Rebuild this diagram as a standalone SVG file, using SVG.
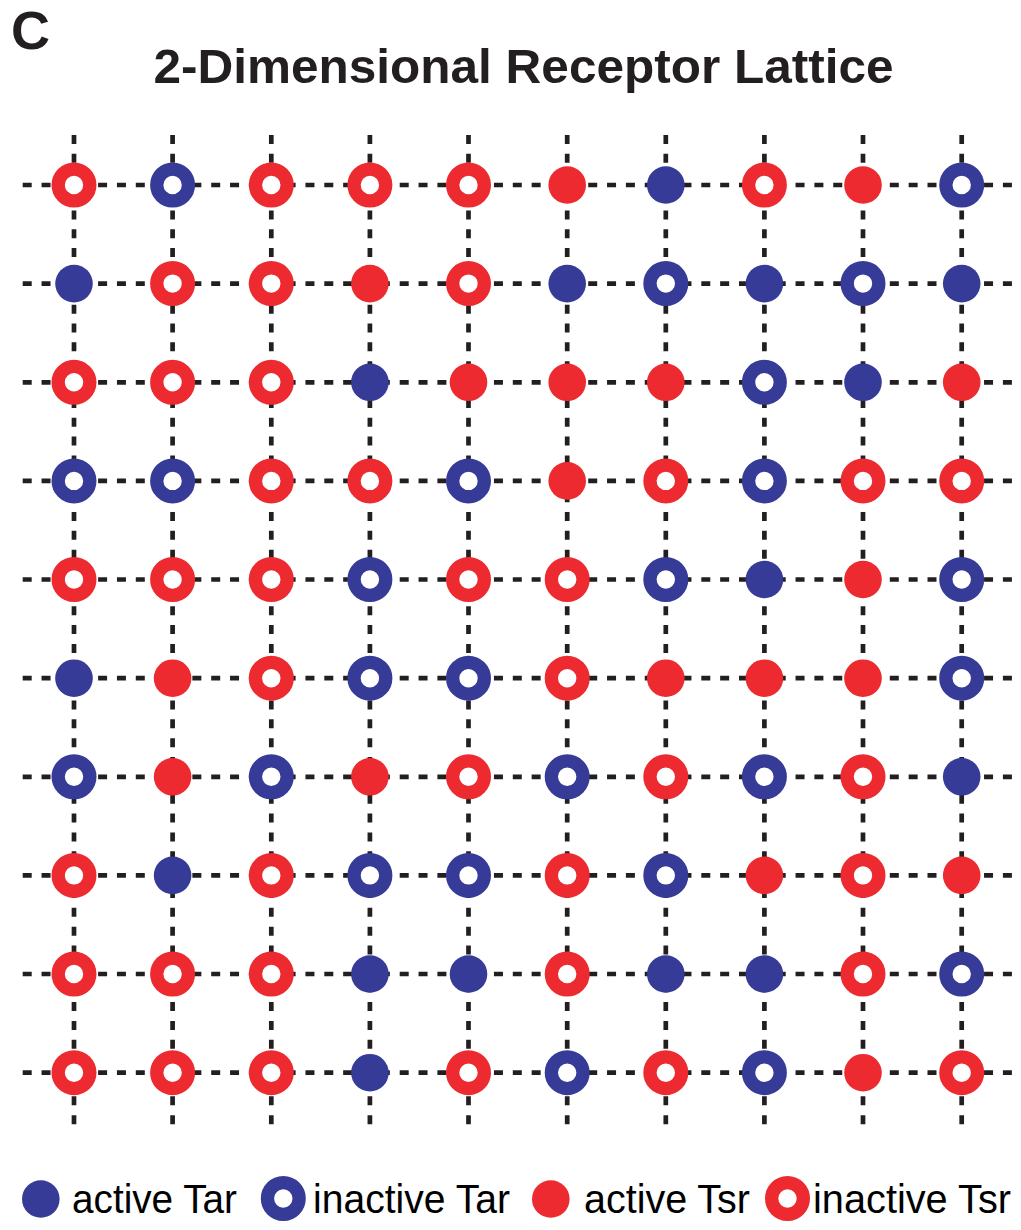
<svg xmlns="http://www.w3.org/2000/svg" xmlns:xlink="http://www.w3.org/1999/xlink" width="1021" height="1230" viewBox="0 0 1021 1230">
<style>
.lat{stroke:#231f20;stroke-width:4.7;stroke-dasharray:9 9.85;fill:none}
.ttl{font-family:"Liberation Sans",Arial,sans-serif;font-weight:bold;fill:#231f20}
.leg{font-family:"Liberation Sans",Arial,sans-serif;font-size:41px;fill:#000}
</style>
<defs>
<g id="aTar"><circle r="18.8" fill="#353B96"/></g>
<g id="iTar"><circle r="15.85" fill="#fff" stroke="#353B96" stroke-width="13.3"/></g>
<g id="aTsr"><circle r="18.8" fill="#ED2A2F"/></g>
<g id="iTsr"><circle r="15.85" fill="#fff" stroke="#ED2A2F" stroke-width="13.3"/></g>
</defs>
<rect width="1021" height="1230" fill="#fff"/>
<text class="ttl" x="11" y="49" font-size="54">C</text>
<text class="ttl" x="153.5" y="83" font-size="48" textLength="740" lengthAdjust="spacingAndGlyphs">2-Dimensional Receptor Lattice</text>
<g id="connectors">
<line class="lat" x1="22.7" y1="185" x2="1012.3" y2="185"/>
<line class="lat" x1="22.7" y1="283.6" x2="1012.3" y2="283.6"/>
<line class="lat" x1="22.7" y1="382.3" x2="1012.3" y2="382.3"/>
<line class="lat" x1="22.7" y1="480.9" x2="1012.3" y2="480.9"/>
<line class="lat" x1="22.7" y1="579.5" x2="1012.3" y2="579.5"/>
<line class="lat" x1="22.7" y1="678.2" x2="1012.3" y2="678.2"/>
<line class="lat" x1="22.7" y1="776.8" x2="1012.3" y2="776.8"/>
<line class="lat" x1="22.7" y1="875.4" x2="1012.3" y2="875.4"/>
<line class="lat" x1="22.7" y1="974" x2="1012.3" y2="974"/>
<line class="lat" x1="22.7" y1="1072.7" x2="1012.3" y2="1072.7"/>
<line class="lat" x1="74" y1="135" x2="74" y2="1124.5"/>
<line class="lat" x1="172.6" y1="135" x2="172.6" y2="1124.5"/>
<line class="lat" x1="271.3" y1="135" x2="271.3" y2="1124.5"/>
<line class="lat" x1="369.9" y1="135" x2="369.9" y2="1124.5"/>
<line class="lat" x1="468.5" y1="135" x2="468.5" y2="1124.5"/>
<line class="lat" x1="567.2" y1="135" x2="567.2" y2="1124.5"/>
<line class="lat" x1="665.8" y1="135" x2="665.8" y2="1124.5"/>
<line class="lat" x1="764.4" y1="135" x2="764.4" y2="1124.5"/>
<line class="lat" x1="863" y1="135" x2="863" y2="1124.5"/>
<line class="lat" x1="961.7" y1="135" x2="961.7" y2="1124.5"/>
</g>
<g id="nodes">
<g id="n1-1"><use href="#iTsr" x="74" y="185"/></g>
<g id="n1-2"><use href="#iTar" x="172.6" y="185"/></g>
<g id="n1-3"><use href="#iTsr" x="271.3" y="185"/></g>
<g id="n1-4"><use href="#iTsr" x="369.9" y="185"/></g>
<g id="n1-5"><use href="#iTsr" x="468.5" y="185"/></g>
<g id="n1-6"><use href="#aTsr" x="567.2" y="185"/></g>
<g id="n1-7"><use href="#aTar" x="665.8" y="185"/></g>
<g id="n1-8"><use href="#iTsr" x="764.4" y="185"/></g>
<g id="n1-9"><use href="#aTsr" x="863" y="185"/></g>
<g id="n1-10"><use href="#iTar" x="961.7" y="185"/></g>

<g id="n2-1"><use href="#aTar" x="74" y="283.6"/></g>
<g id="n2-2"><use href="#iTsr" x="172.6" y="283.6"/></g>
<g id="n2-3"><use href="#iTsr" x="271.3" y="283.6"/></g>
<g id="n2-4"><use href="#aTsr" x="369.9" y="283.6"/></g>
<g id="n2-5"><use href="#iTsr" x="468.5" y="283.6"/></g>
<g id="n2-6"><use href="#aTar" x="567.2" y="283.6"/></g>
<g id="n2-7"><use href="#iTar" x="665.8" y="283.6"/></g>
<g id="n2-8"><use href="#aTar" x="764.4" y="283.6"/></g>
<g id="n2-9"><use href="#iTar" x="863" y="283.6"/></g>
<g id="n2-10"><use href="#aTar" x="961.7" y="283.6"/></g>

<g id="n3-1"><use href="#iTsr" x="74" y="382.3"/></g>
<g id="n3-2"><use href="#iTsr" x="172.6" y="382.3"/></g>
<g id="n3-3"><use href="#iTsr" x="271.3" y="382.3"/></g>
<g id="n3-4"><use href="#aTar" x="369.9" y="382.3"/></g>
<g id="n3-5"><use href="#aTsr" x="468.5" y="382.3"/></g>
<g id="n3-6"><use href="#aTsr" x="567.2" y="382.3"/></g>
<g id="n3-7"><use href="#aTsr" x="665.8" y="382.3"/></g>
<g id="n3-8"><use href="#iTar" x="764.4" y="382.3"/></g>
<g id="n3-9"><use href="#aTar" x="863" y="382.3"/></g>
<g id="n3-10"><use href="#aTsr" x="961.7" y="382.3"/></g>

<g id="n4-1"><use href="#iTar" x="74" y="480.9"/></g>
<g id="n4-2"><use href="#iTar" x="172.6" y="480.9"/></g>
<g id="n4-3"><use href="#iTsr" x="271.3" y="480.9"/></g>
<g id="n4-4"><use href="#iTsr" x="369.9" y="480.9"/></g>
<g id="n4-5"><use href="#iTar" x="468.5" y="480.9"/></g>
<g id="n4-6"><use href="#aTsr" x="567.2" y="480.9"/></g>
<g id="n4-7"><use href="#iTsr" x="665.8" y="480.9"/></g>
<g id="n4-8"><use href="#iTar" x="764.4" y="480.9"/></g>
<g id="n4-9"><use href="#iTsr" x="863" y="480.9"/></g>
<g id="n4-10"><use href="#iTsr" x="961.7" y="480.9"/></g>

<g id="n5-1"><use href="#iTsr" x="74" y="579.5"/></g>
<g id="n5-2"><use href="#iTsr" x="172.6" y="579.5"/></g>
<g id="n5-3"><use href="#iTsr" x="271.3" y="579.5"/></g>
<g id="n5-4"><use href="#iTar" x="369.9" y="579.5"/></g>
<g id="n5-5"><use href="#iTsr" x="468.5" y="579.5"/></g>
<g id="n5-6"><use href="#iTsr" x="567.2" y="579.5"/></g>
<g id="n5-7"><use href="#iTar" x="665.8" y="579.5"/></g>
<g id="n5-8"><use href="#aTar" x="764.4" y="579.5"/></g>
<g id="n5-9"><use href="#aTsr" x="863" y="579.5"/></g>
<g id="n5-10"><use href="#iTar" x="961.7" y="579.5"/></g>

<g id="n6-1"><use href="#aTar" x="74" y="678.2"/></g>
<g id="n6-2"><use href="#aTsr" x="172.6" y="678.2"/></g>
<g id="n6-3"><use href="#iTsr" x="271.3" y="678.2"/></g>
<g id="n6-4"><use href="#iTar" x="369.9" y="678.2"/></g>
<g id="n6-5"><use href="#iTar" x="468.5" y="678.2"/></g>
<g id="n6-6"><use href="#iTsr" x="567.2" y="678.2"/></g>
<g id="n6-7"><use href="#aTsr" x="665.8" y="678.2"/></g>
<g id="n6-8"><use href="#aTsr" x="764.4" y="678.2"/></g>
<g id="n6-9"><use href="#aTsr" x="863" y="678.2"/></g>
<g id="n6-10"><use href="#iTar" x="961.7" y="678.2"/></g>

<g id="n7-1"><use href="#iTar" x="74" y="776.8"/></g>
<g id="n7-2"><use href="#aTsr" x="172.6" y="776.8"/></g>
<g id="n7-3"><use href="#iTar" x="271.3" y="776.8"/></g>
<g id="n7-4"><use href="#aTsr" x="369.9" y="776.8"/></g>
<g id="n7-5"><use href="#iTsr" x="468.5" y="776.8"/></g>
<g id="n7-6"><use href="#iTar" x="567.2" y="776.8"/></g>
<g id="n7-7"><use href="#iTsr" x="665.8" y="776.8"/></g>
<g id="n7-8"><use href="#iTar" x="764.4" y="776.8"/></g>
<g id="n7-9"><use href="#iTsr" x="863" y="776.8"/></g>
<g id="n7-10"><use href="#aTar" x="961.7" y="776.8"/></g>

<g id="n8-1"><use href="#iTsr" x="74" y="875.4"/></g>
<g id="n8-2"><use href="#aTar" x="172.6" y="875.4"/></g>
<g id="n8-3"><use href="#iTsr" x="271.3" y="875.4"/></g>
<g id="n8-4"><use href="#iTar" x="369.9" y="875.4"/></g>
<g id="n8-5"><use href="#iTar" x="468.5" y="875.4"/></g>
<g id="n8-6"><use href="#iTsr" x="567.2" y="875.4"/></g>
<g id="n8-7"><use href="#iTar" x="665.8" y="875.4"/></g>
<g id="n8-8"><use href="#aTsr" x="764.4" y="875.4"/></g>
<g id="n8-9"><use href="#iTsr" x="863" y="875.4"/></g>
<g id="n8-10"><use href="#aTsr" x="961.7" y="875.4"/></g>

<g id="n9-1"><use href="#iTsr" x="74" y="974"/></g>
<g id="n9-2"><use href="#iTsr" x="172.6" y="974"/></g>
<g id="n9-3"><use href="#iTsr" x="271.3" y="974"/></g>
<g id="n9-4"><use href="#aTar" x="369.9" y="974"/></g>
<g id="n9-5"><use href="#aTar" x="468.5" y="974"/></g>
<g id="n9-6"><use href="#iTsr" x="567.2" y="974"/></g>
<g id="n9-7"><use href="#aTar" x="665.8" y="974"/></g>
<g id="n9-8"><use href="#aTar" x="764.4" y="974"/></g>
<g id="n9-9"><use href="#iTsr" x="863" y="974"/></g>
<g id="n9-10"><use href="#iTar" x="961.7" y="974"/></g>

<g id="n10-1"><use href="#iTsr" x="74" y="1072.7"/></g>
<g id="n10-2"><use href="#iTsr" x="172.6" y="1072.7"/></g>
<g id="n10-3"><use href="#iTsr" x="271.3" y="1072.7"/></g>
<g id="n10-4"><use href="#aTar" x="369.9" y="1072.7"/></g>
<g id="n10-5"><use href="#iTsr" x="468.5" y="1072.7"/></g>
<g id="n10-6"><use href="#iTar" x="567.2" y="1072.7"/></g>
<g id="n10-7"><use href="#iTsr" x="665.8" y="1072.7"/></g>
<g id="n10-8"><use href="#iTar" x="764.4" y="1072.7"/></g>
<g id="n10-9"><use href="#aTsr" x="863" y="1072.7"/></g>
<g id="n10-10"><use href="#iTsr" x="961.7" y="1072.7"/></g>
</g>
<g id="legend">
<g id="leg-aTar"><use href="#aTar" x="40.8" y="1199"/><text class="leg" x="72" y="1213" textLength="165" lengthAdjust="spacingAndGlyphs">active Tar</text></g>
<g id="leg-iTar"><use href="#iTar" x="283.3" y="1198.5"/><text class="leg" x="313" y="1213" textLength="197" lengthAdjust="spacingAndGlyphs">inactive Tar</text></g>
<g id="leg-aTsr"><use href="#aTsr" x="550.8" y="1199"/><text class="leg" x="584" y="1213" textLength="166" lengthAdjust="spacingAndGlyphs">active Tsr</text></g>
<g id="leg-iTsr"><use href="#iTsr" x="787.5" y="1198.5"/><text class="leg" x="813" y="1213" textLength="198" lengthAdjust="spacingAndGlyphs">inactive Tsr</text></g>
</g>
</svg>
